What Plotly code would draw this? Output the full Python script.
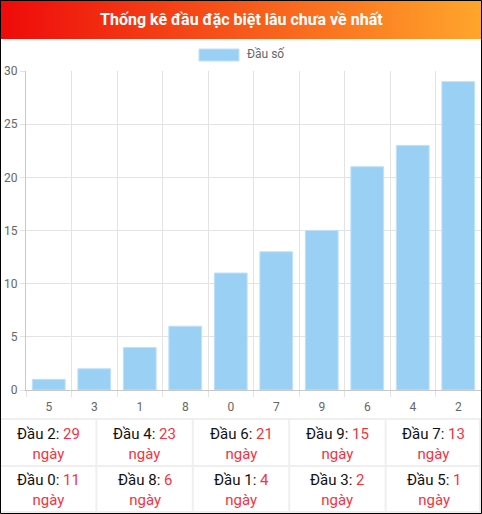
import plotly.graph_objects as go

# Thong ke dau dac biet lau chua ve nhat
heads = ["5", "3", "1", "8", "0", "7", "9", "6", "4", "2"]
days = [1, 2, 4, 6, 11, 13, 15, 21, 23, 29]
y_ticks = [0, 5, 10, 15, 20, 25, 30]

title = "Thống kê đầu đặc biệt lâu chưa về nhất"
series_name = "Đầu số"

W, H = 482, 514
ML, MR, MT, MB = 26, 1, 71, 124
PW, PH = W - ML - MR, H - MT - MB


def px(x):
    return (x - ML) / PW


def py(y):
    return (H - MB - y) / PH


red = "#f5333f"

fig = go.Figure()
fig.add_trace(
    go.Bar(
        x=heads,
        y=days,
        name=series_name,
        width=0.72,
        marker=dict(color="#9bd0f5", line=dict(color="#bfe0f8", width=1)),
        showlegend=False,
    )
)

gradient = (
    "data:image/svg+xml;utf8,<svg xmlns='http://www.w3.org/2000/svg' width='482' height='39' "
    "preserveAspectRatio='none'><defs><linearGradient id='g' x1='0' x2='1' y1='0' y2='0'>"
    "<stop offset='0' stop-color='%23ee0a0a'/><stop offset='1' stop-color='%23ffa62b'/>"
    "</linearGradient></defs><rect width='482' height='39' fill='url(%23g)'/></svg>"
)

shapes = []
annotations = []

# header text
annotations.append(dict(
    text="<b>" + title + "</b>", x=px(W / 2), y=py(19), xref="paper", yref="paper",
    showarrow=False, font=dict(color="white", size=16, family="Roboto"),
    xanchor="center", yanchor="middle",
))

# legend drawn like the original (wide box + label)
shapes.append(dict(type="rect", xref="paper", yref="paper",
                   x0=px(199), x1=px(239), y0=py(49), y1=py(61),
                   fillcolor="#9bd0f5", line=dict(color="#bfe0f8", width=1)))
annotations.append(dict(
    text=series_name, x=px(245), y=py(54), xref="paper", yref="paper",
    showarrow=False, font=dict(color="#666", size=12, family="Roboto"),
    xanchor="left", yanchor="middle",
))

# summary table under the chart, sorted by days
order = sorted(range(len(heads)), key=lambda i: -days[i])
col_w = W / 5
rows_y = [419, 466, 512]
for r in range(2):
    for c in range(5):
        i = order[r * 5 + c]
        txt = (
            "Đầu " + heads[i] + ": <span style='color:" + red + "'>" + str(days[i]) + "</span>"
            + "<br><span style='color:" + red + "'>ngày</span>"
        )
        annotations.append(dict(
            text=txt, x=px((c + 0.5) * col_w), y=py((rows_y[r] + rows_y[r + 1]) / 2 + 1),
            xref="paper", yref="paper", showarrow=False,
            font=dict(color="#111", size=15, family="Roboto"),
            xanchor="center", yanchor="middle",
        ))

for yy in rows_y:
    shapes.append(dict(type="line", xref="paper", yref="paper",
                       x0=px(0), x1=px(W), y0=py(yy), y1=py(yy),
                       line=dict(color="#efefef", width=2)))
for c in range(1, 5):
    shapes.append(dict(type="line", xref="paper", yref="paper",
                       x0=px(c * col_w), x1=px(c * col_w), y0=py(419), y1=py(512),
                       line=dict(color="#efefef", width=2)))
shapes.append(dict(type="line", xref="paper", yref="paper",
                   x0=px(480), x1=px(480), y0=py(419), y1=py(512),
                   line=dict(color="#efefef", width=2)))

# outer frame
shapes.append(dict(type="rect", xref="paper", yref="paper",
                   x0=px(0.5), x1=px(W - 0.5), y0=py(0.5), y1=py(H - 0.5),
                   line=dict(color="black", width=1)))

fig.update_layout(
    width=W,
    height=H,
    margin=dict(l=ML, r=MR, t=MT, b=MB, pad=0),
    paper_bgcolor="white",
    plot_bgcolor="white",
    font=dict(family="Roboto", color="#666", size=12),
    images=[dict(source=gradient, xref="paper", yref="paper", x=px(0), y=py(0),
                 sizex=W / PW, sizey=39 / PH, sizing="stretch",
                 xanchor="left", yanchor="top", layer="below")],
    shapes=shapes,
    annotations=annotations,
    xaxis=dict(
        type="category",
        tickson="boundaries",
        showgrid=True,
        gridcolor="#e3e3e3",
        ticks="outside",
        ticklen=6,
        tickcolor="#e3e3e3",
        ticklabelstandoff=6,
        showline=True,
        linecolor="#c8c8c8",
        tickfont=dict(size=12, color="#666"),
        fixedrange=True,
    ),
    yaxis=dict(
        range=[0, 30],
        tickvals=y_ticks,
        showgrid=True,
        gridcolor="#e3e3e3",
        ticks="outside",
        ticklen=5,
        tickcolor="#e3e3e3",
        showline=True,
        linecolor="#c8c8c8",
        zeroline=False,
        tickfont=dict(size=12, color="#666"),
        fixedrange=True,
    ),
    showlegend=False,
)

# page without body margin so the figure fills the window
fig.write_html(
    "out.html",
    config={"displayModeBar": False},
    post_script="document.body.style.margin='0';document.body.style.overflow='hidden';",
)
